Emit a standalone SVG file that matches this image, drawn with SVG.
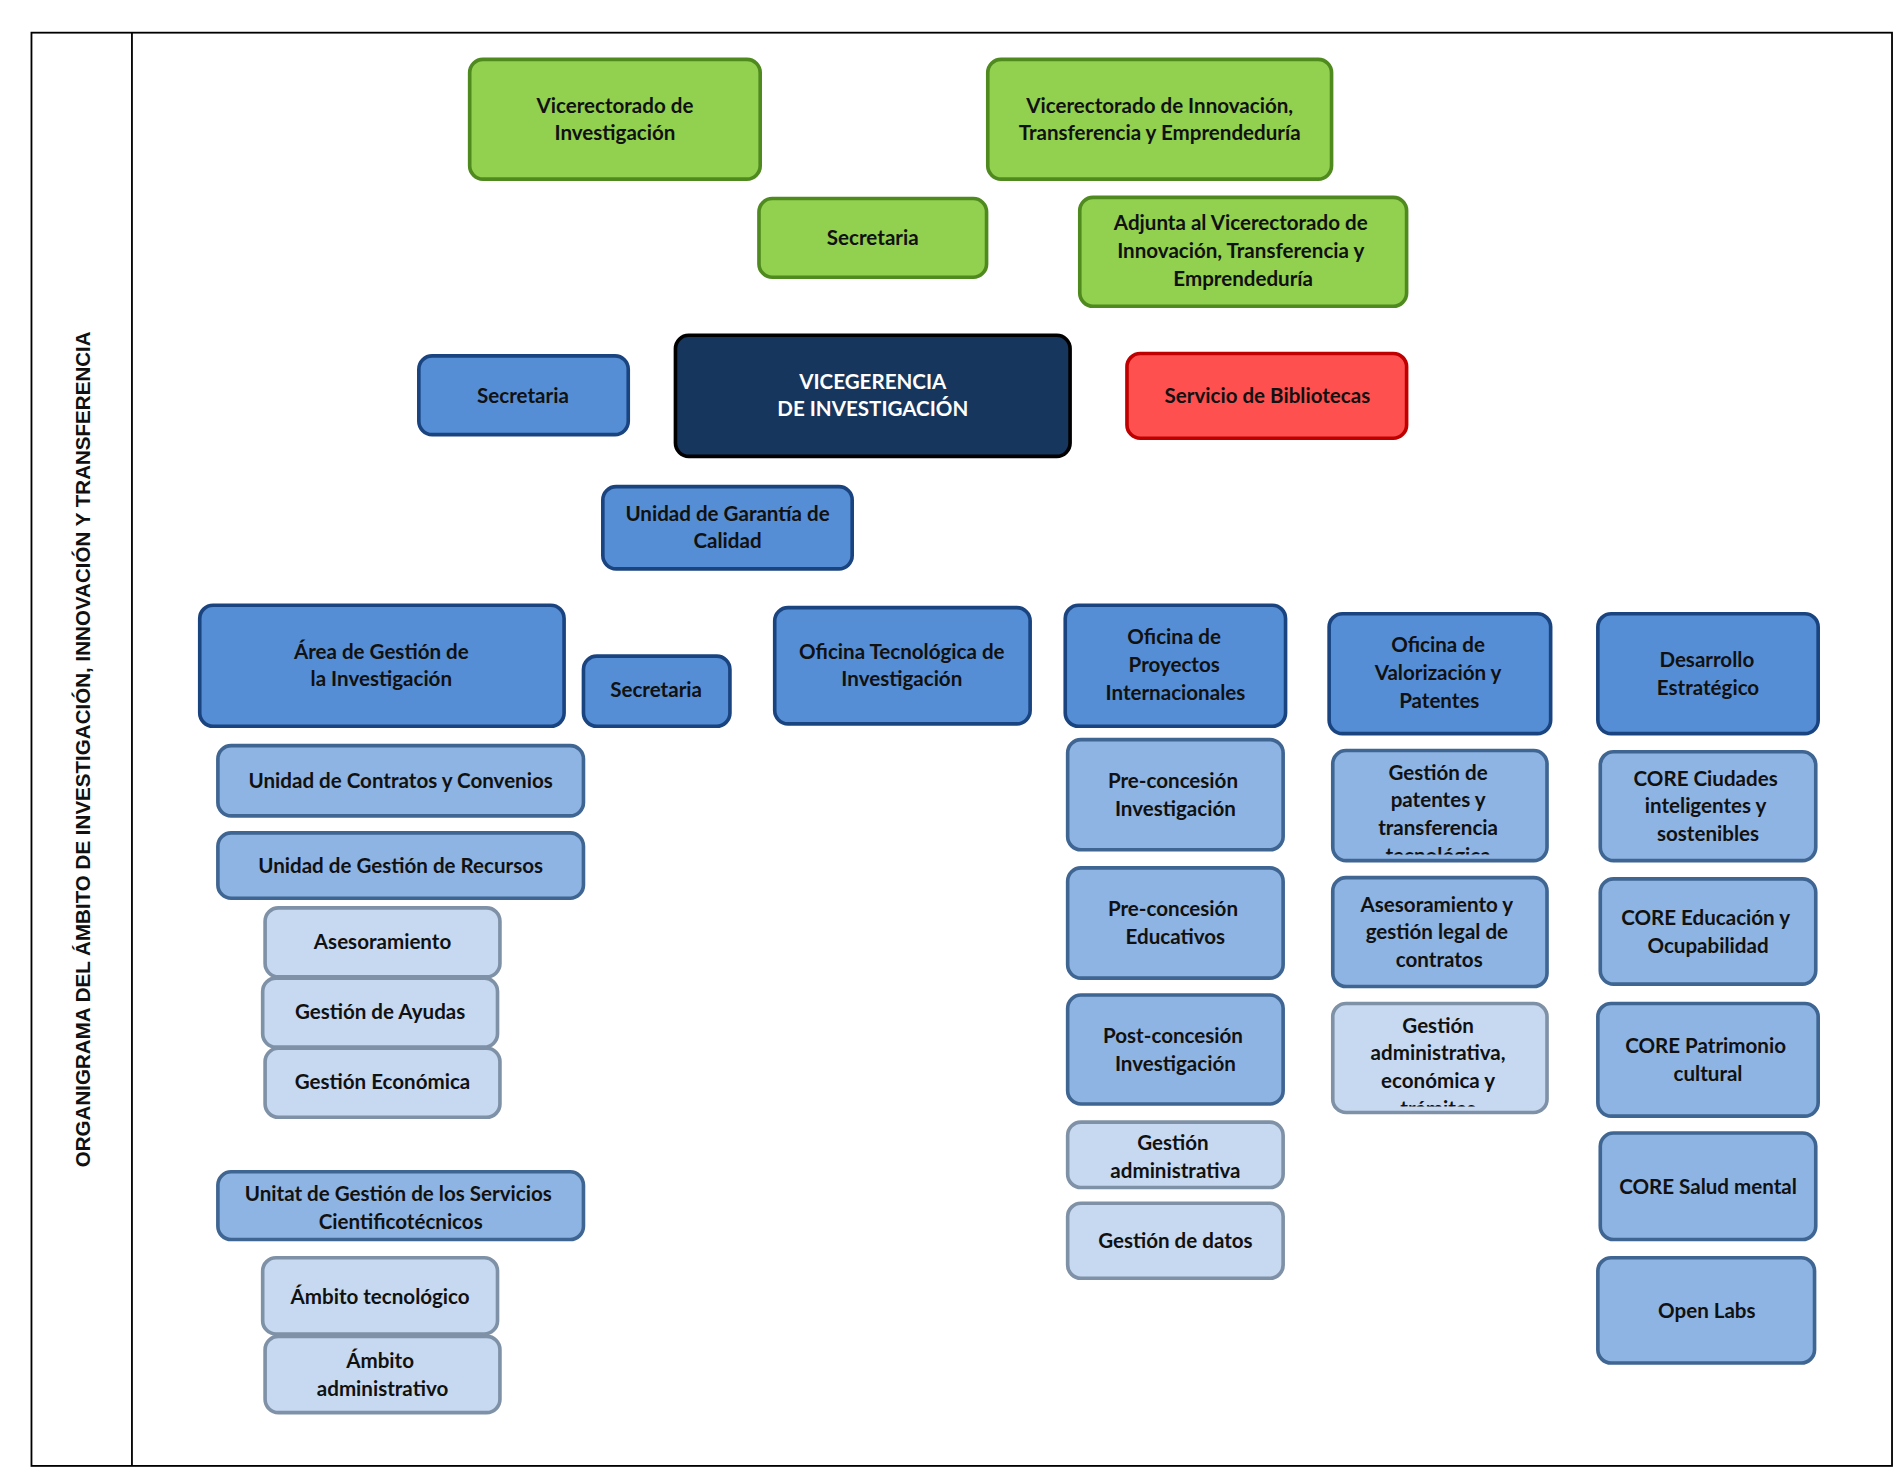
<svg xmlns="http://www.w3.org/2000/svg" width="1898" height="1477" viewBox="0 0 1898 1477">
<style>
text{font-family:Lato,"Open Sans","Liberation Sans",sans-serif;font-weight:bold;font-size:17px;text-anchor:middle;fill:#111}
.g rect{fill:#92d050;stroke:#4f8a1f;stroke-width:3}
.d rect{fill:#17365d;stroke:#000;stroke-width:3}
.d text{fill:#fff}
.r rect{fill:#ff5050;stroke:#c00000;stroke-width:3}
.m rect{fill:#558ed5;stroke:#1a4480;stroke-width:3}
.l rect{fill:#8eb4e3;stroke:#3f6592;stroke-width:3}
.x rect{fill:#c6d9f1;stroke:#7f91a6;stroke-width:3}
</style>
<defs>
<clipPath id="c1"><rect x="1101" y="620" width="177" height="86"/></clipPath>
<clipPath id="c2"><rect x="1101" y="829" width="177" height="85"/></clipPath>
</defs>
<rect width="1898" height="1477" fill="#fff"/>
<g transform="scale(1.2105)">
<g id="frame" fill="none" stroke="#000" stroke-width="1.5"><rect x="26" y="27" width="1537" height="1184"/><line x1="109" y1="27" x2="109" y2="1211"/></g>
<text id="title" transform="translate(74,619) rotate(-90)" style="font-family:'Liberation Sans',Arial,sans-serif;font-size:17px">ORGANIGRAMA DEL ÁMBITO DE INVESTIGACIÓN, INNOVACIÓN Y TRANSFERENCIA</text>
<g id="connectors"/>
<g id="n1" class="g"><rect x="388" y="49" width="240" height="99" rx="11"/><text x="508" y="93">Vicerectorado de</text><text x="508" y="116">Investigación</text></g>
<g id="n2" class="g"><rect x="816" y="49" width="284" height="99" rx="11"/><text x="958" y="93">Vicerectorado de Innovación,</text><text x="958" y="116">Transferencia y Emprendeduría</text></g>
<g id="n3" class="g"><rect x="627" y="164" width="188" height="65" rx="11"/><text x="721" y="202">Secretaria</text></g>
<g id="n4" class="g"><rect x="892" y="163" width="270" height="90" rx="11"/><text x="1025" y="190">Adjunta al Vicerectorado  de</text><text x="1025" y="213">Innovación, Transferencia y</text><text x="1027" y="236">Emprendeduría</text></g>
<g id="n5" class="d"><rect x="558" y="277" width="326" height="100" rx="11"/><text x="721" y="321">VICEGERENCIA</text><text x="721" y="344">DE INVESTIGACIÓN</text></g>
<g id="n6" class="r"><rect x="931" y="292" width="231" height="70" rx="11"/><text x="1047" y="333">Servicio de Bibliotecas</text></g>
<g id="n7" class="m"><rect x="346" y="294" width="173" height="65" rx="11"/><text x="432" y="333">Secretaria</text></g>
<g id="n8" class="m"><rect x="498" y="402" width="206" height="68" rx="11"/><text x="601" y="430">Unidad de Garantía de</text><text x="601" y="453">Calidad</text></g>
<g id="n9" class="m"><rect x="165" y="500" width="301" height="100" rx="11"/><text x="315" y="544">Área de Gestión de</text><text x="315" y="567">la Investigación</text></g>
<g id="n10" class="m"><rect x="482" y="542" width="121" height="58" rx="11"/><text x="542" y="576">Secretaria</text></g>
<g id="n11" class="m"><rect x="640" y="502" width="211" height="96" rx="11"/><text x="745" y="544">Oficina Tecnológica de</text><text x="745" y="567">Investigación</text></g>
<g id="n12" class="m"><rect x="880" y="500" width="182" height="100" rx="11"/><text x="970" y="532">Oficina de</text><text x="970" y="555">Proyectos</text><text x="971" y="578">Internacionales</text></g>
<g id="n13" class="m"><rect x="1098" y="507" width="183" height="99" rx="11"/><text x="1188" y="539">Oficina de</text><text x="1188" y="562">Valorización y</text><text x="1189" y="585">Patentes</text></g>
<g id="n14" class="m"><rect x="1320" y="507" width="182" height="99" rx="11"/><text x="1410" y="551">Desarrollo</text><text x="1411" y="574">Estratégico</text></g>
<g id="n15" class="l"><rect x="180" y="616" width="302" height="58" rx="11"/><text x="331" y="651">Unidad de Contratos y Convenios</text></g>
<g id="n16" class="l"><rect x="180" y="688" width="302" height="54" rx="11"/><text x="331" y="721">Unidad de Gestión de Recursos</text></g>
<g id="n17" class="x"><rect x="219" y="750" width="194" height="57" rx="11"/><text x="316" y="784">Asesoramiento</text></g>
<g id="n18" class="x"><rect x="217" y="808" width="194" height="57" rx="11"/><text x="314" y="842">Gestión de Ayudas</text></g>
<g id="n19" class="x"><rect x="219" y="866" width="194" height="57" rx="11"/><text x="316" y="900">Gestión Económica</text></g>
<g id="n20" class="l"><rect x="180" y="968" width="302" height="56" rx="11"/><text x="329" y="992">Unitat de Gestión de los Servicios</text><text x="331" y="1015">Cientificotécnicos</text></g>
<g id="n21" class="x"><rect x="217" y="1039" width="194" height="63" rx="11"/><text x="314" y="1077">Ámbito tecnológico</text></g>
<g id="n22" class="x"><rect x="219" y="1104" width="194" height="63" rx="11"/><text x="314" y="1130">Ámbito</text><text x="316" y="1153">administrativo</text></g>
<g id="n23" class="l"><rect x="882" y="611" width="178" height="91" rx="11"/><text x="969" y="651">Pre-concesión</text><text x="971" y="674">Investigación</text></g>
<g id="n24" class="l"><rect x="882" y="717" width="178" height="91" rx="11"/><text x="969" y="757">Pre-concesión</text><text x="971" y="780">Educativos</text></g>
<g id="n25" class="l"><rect x="882" y="822" width="178" height="90" rx="11"/><text x="969" y="862">Post-concesión</text><text x="971" y="885">Investigación</text></g>
<g id="n26" class="x"><rect x="882" y="927" width="178" height="54" rx="11"/><text x="969" y="950">Gestión</text><text x="971" y="973">administrativa</text></g>
<g id="n27" class="x"><rect x="882" y="994" width="178" height="62" rx="11"/><text x="971" y="1031">Gestión de datos</text></g>
<g id="n28" class="l"><rect x="1101" y="620" width="177" height="91" rx="11"/><g clip-path="url(#c1)"><text x="1188" y="644">Gestión de</text><text x="1188" y="667">patentes y</text><text x="1188" y="690">transferencia</text><text x="1188" y="713">tecnológica</text></g></g>
<g id="n29" class="l"><rect x="1101" y="725" width="177" height="90" rx="11"/><text x="1187" y="753">Asesoramiento y</text><text x="1187" y="776">gestión legal de</text><text x="1189" y="799">contratos</text></g>
<g id="n30" class="x"><rect x="1101" y="829" width="177" height="90" rx="11"/><g clip-path="url(#c2)"><text x="1188" y="853">Gestión</text><text x="1188" y="876">administrativa,</text><text x="1188" y="899">económica y</text><text x="1188" y="922">trámites</text></g></g>
<g id="n31" class="l"><rect x="1322" y="621" width="178" height="90" rx="11"/><text x="1409" y="649">CORE Ciudades</text><text x="1409" y="672">inteligentes y</text><text x="1411" y="695">sostenibles</text></g>
<g id="n32" class="l"><rect x="1322" y="726" width="178" height="87" rx="11"/><text x="1409" y="764">CORE Educación y</text><text x="1411" y="787">Ocupabilidad</text></g>
<g id="n33" class="l"><rect x="1320" y="829" width="182" height="93" rx="11"/><text x="1409" y="870">CORE Patrimonio</text><text x="1411" y="893">cultural</text></g>
<g id="n34" class="l"><rect x="1322" y="936" width="178" height="88" rx="11"/><text x="1411" y="986">CORE Salud mental</text></g>
<g id="n35" class="l"><rect x="1320" y="1039" width="179" height="87" rx="11"/><text x="1410" y="1089">Open Labs</text></g>
</g>
</svg>
